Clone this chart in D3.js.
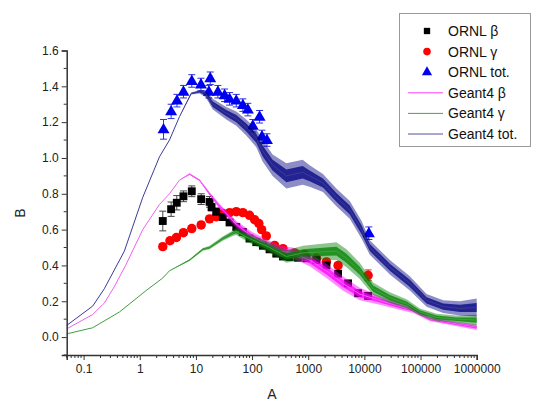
<!DOCTYPE html>
<html><head><meta charset="utf-8">
<script src="https://cdn.jsdelivr.net/npm/d3@7"></script>
<style>body{margin:0;background:#fff}svg{display:block}text{font-family:"Liberation Sans",Arial,sans-serif}</style>
</head><body><svg id="c" width="533" height="403"></svg>
<script>
// ORNL β
const ornlBetaA = [2.57,3.62,4.56,6.0,8.44,12.4,17.5,19.0,23.0,30.1,39.7,52.3,68.5,90,119,156,205,270,355,467,656,927,1400,2110,3400,5120,7720,11650];
const ornlBetaB = [0.648,0.714,0.75,0.786,0.814,0.77,0.755,0.725,0.70,0.67,0.64,0.615,0.587,0.55,0.53,0.51,0.49,0.466,0.45,0.447,0.443,0.44,0.43,0.40,0.354,0.30,0.245,0.23];
const ornlBetaErr = [0.055,0.04,0.04,0.03,0.03,0.03,0.03,0.02,0.02,0.015,0.015,0.015,0.015,0.015,0.015,0.015,0.015,0.015,0.015,0.015,0.015,0.015,0.015,0.015,0.015,0.015,0.015,0.015];
// ORNL γ
const ornlGammaA = [2.57,3.45,4.5,6.0,8.44,12.4,17.5,23.0,30.1,39.7,52.3,68.5,90,111,132,148,179,252,355,573,865,1400,2110,3400,11650];
const ornlGammaB = [0.505,0.538,0.556,0.583,0.606,0.626,0.66,0.672,0.69,0.695,0.70,0.695,0.68,0.655,0.634,0.60,0.565,0.512,0.494,0.47,0.46,0.44,0.42,0.40,0.345];
const ornlGammaErr = [0.015,0.015,0.015,0.015,0.015,0.015,0.015,0.015,0.015,0.015,0.015,0.015,0.015,0.015,0.015,0.015,0.015,0.015,0.015,0.015,0.015,0.015,0.015,0.015,0.03];
// ORNL tot.
const ornlTotA = [2.65,3.62,4.6,6.0,8.44,12.3,17.0,18.0,24.6,32.4,39.7,52.3,68.6,84.2,103,136,150,184,12000];
const ornlTotB = [1.16,1.26,1.32,1.37,1.43,1.41,1.37,1.445,1.37,1.35,1.33,1.32,1.295,1.27,1.18,1.23,1.12,1.10,0.58];
const ornlTotErr = [0.055,0.04,0.035,0.035,0.035,0.035,0.035,0.035,0.035,0.035,0.035,0.035,0.035,0.035,0.035,0.035,0.035,0.035,0.035];
// Geant4 β
const g4BetaA = [0.05,0.145,0.234,0.35,0.56,1.13,2.24,3.38,5.09,7.7,11.6,17.5,26.3,52,102,310,528,1060,2110,4120,8280,18800,37400,74000,147000,291000,1000000];
const g4BetaB = [0.046,0.126,0.19,0.28,0.40,0.60,0.74,0.80,0.876,0.91,0.876,0.80,0.73,0.63,0.56,0.48,0.47,0.43,0.37,0.30,0.24,0.205,0.177,0.15,0.10,0.083,0.055];
const g4BetaSpread = [0,0,0,0,0,0,0,0,0,0.005,0.005,0.01,0.015,0.02,0.025,0.03,0.03,0.035,0.04,0.04,0.035,0.025,0.02,0.015,0.012,0.012,0.015];
// Geant4 γ
const g4GammaA = [0.05,0.145,0.434,1.30,2.57,3.38,7.7,13.3,17.5,30,45.5,52,90,205,408,807,1600,3170,4800,8280,14300,28400,56400,97300,193000,440000,1000000];
const g4GammaB = [0.018,0.052,0.14,0.26,0.33,0.37,0.43,0.49,0.50,0.55,0.58,0.59,0.55,0.50,0.45,0.47,0.475,0.48,0.44,0.37,0.27,0.22,0.186,0.14,0.11,0.10,0.095];
const g4GammaSpread = [0,0,0,0,0,0,0.005,0.008,0.01,0.012,0.015,0.02,0.025,0.03,0.035,0.04,0.045,0.05,0.05,0.045,0.035,0.03,0.025,0.02,0.02,0.02,0.03];
// Geant4 tot.
const g4TotA = [0.05,0.145,0.234,0.532,1.13,2.24,3.38,5.09,8.24,11.6,14.8,20,34.7,52.3,78.8,119,154,232,408,796,1060,1830,3170,5490,8880,12500,28400,64500,128000,254000,503000,1000000];
const g4TotB = [0.065,0.173,0.27,0.48,0.78,1.006,1.10,1.23,1.36,1.37,1.36,1.30,1.25,1.22,1.17,1.11,1.04,0.96,0.90,0.92,0.90,0.86,0.78,0.71,0.60,0.50,0.39,0.30,0.205,0.17,0.16,0.165];
const g4TotSpread = [0,0,0,0,0,0,0,0,0.005,0.01,0.02,0.03,0.035,0.04,0.045,0.05,0.06,0.06,0.07,0.07,0.06,0.05,0.05,0.05,0.05,0.04,0.04,0.04,0.035,0.035,0.04,0.05];

const xTicks = [0.1,1,10,100,1000,10000,100000,1000000];
const xTickLabels = ["0.1","1","10","100","1000","10000","100000","1000000"];
const yTicks = [0.0,0.2,0.4,0.6,0.8,1.0,1.2,1.4,1.6];
const legendLabels = ["ORNL β","ORNL γ","ORNL tot.","Geant4 β","Geant4 γ","Geant4 tot."];

const svg = d3.select("#c");
const x = d3.scaleLog().domain([0.05, 1e6]).range([66.7, 476.7]);
const y = d3.scaleLinear().domain([-0.1, 1.6]).range([355, 50.5]);

const zip = (A,B,E)=>A.map((a,i)=>({a, b:B[i], e:E?E[i]:0}));

// ORNL points with error bars
function drawPoints(data, color, errColor, shape) {
  const g = svg.append("g");
  g.selectAll("path.err").data(data).enter().append("path")
    .attr("d", d => {
      const cx = x(d.a), y1 = y(d.b + d.e), y0 = y(d.b - d.e);
      return `M${cx},${y0}V${y1}M${cx-3.5},${y1}H${cx+3.5}M${cx-3.5},${y0}H${cx+3.5}`;
    })
    .attr("stroke", errColor).attr("stroke-width", 1).attr("fill", "none");
  const sym = d3.symbol().type(shape.type).size(shape.size);
  g.selectAll("path.pt").data(data).enter().append("path")
    .attr("transform", d => `translate(${x(d.a)},${y(d.b) + (shape.dy||0)})`)
    .attr("d", sym).attr("fill", color);
}
drawPoints(zip(ornlTotA, ornlTotB, ornlTotErr), "#0000f0", "#3030e0", {type: d3.symbolTriangle, size: 62, dy: 0.5});
drawPoints(zip(ornlGammaA, ornlGammaB, ornlGammaErr), "#ff0000", "#e03030", {type: d3.symbolCircle, size: 70});
drawPoints(zip(ornlBetaA, ornlBetaB, ornlBetaErr), "#000000", "#444", {type: d3.symbolSquare, size: 62});

// Geant4 curves: outer noise envelope (light), inner core (denser), thin mean line
function drawCurve(A, B, S, color, lineColor) {
  const data = zip(A, B, S);
  svg.append("path").datum(data)
    .attr("d", d3.area().x(d => x(d.a)).y0(d => y(d.b - d.e)).y1(d => y(d.b + d.e)))
    .attr("fill", color).attr("fill-opacity", 0.45);
  svg.append("path").datum(data)
    .attr("d", d3.area().x(d => x(d.a)).y0(d => y(d.b - d.e * 0.5)).y1(d => y(d.b + d.e * 0.5)))
    .attr("fill", color).attr("fill-opacity", 0.75);
  svg.append("path").datum(data)
    .attr("d", d3.line().x(d => x(d.a)).y(d => y(d.b)))
    .attr("fill", "none").attr("stroke", lineColor).attr("stroke-width", 1);
}
drawCurve(g4BetaA, g4BetaB, g4BetaSpread, "#ff00ff", "#f060f0");
drawCurve(g4GammaA, g4GammaB, g4GammaSpread, "#008000", "#40a040");
drawCurve(g4TotA, g4TotB, g4TotSpread, "#000080", "#3c3c98");

// Axes
const axisColor = "#333";
const xAxis = d3.axisBottom(x).tickValues(xTicks).tickFormat((d,i)=>xTickLabels[i]).tickSize(5).tickPadding(4);
const gx = svg.append("g").attr("transform", "translate(0,355)").call(xAxis);
const minorX = [];
for (let e = -2; e < 6; e++) for (let m = 2; m <= 9; m++) { const v = m * Math.pow(10, e); if (v >= 0.05 && v <= 1e6) minorX.push(v); }
svg.append("g").selectAll("line").data(minorX).enter().append("line")
  .attr("x1", d => x(d)).attr("x2", d => x(d)).attr("y1", 355).attr("y2", 358)
  .attr("stroke", axisColor).attr("stroke-width", 1);
const yAxis = d3.axisLeft(y).tickValues(yTicks).tickFormat(d3.format(".1f")).tickSize(5).tickPadding(3);
const gy = svg.append("g").attr("transform", "translate(66.7,0)").call(yAxis);
const minorY = [-0.1,0.1,0.3,0.5,0.7,0.9,1.1,1.3,1.5];
svg.append("g").selectAll("line").data(minorY).enter().append("line")
  .attr("x1", 63.7).attr("x2", 66.7).attr("y1", d => y(d)).attr("y2", d => y(d))
  .attr("stroke", axisColor).attr("stroke-width", 1);
[gx, gy].forEach(g => {
  g.select(".domain").attr("stroke", axisColor).attr("stroke-width", 1.5);
  g.selectAll(".tick line").attr("stroke", axisColor).attr("stroke-width", 1);
  g.selectAll(".tick text").attr("font-size", 12).attr("fill", "#222").attr("font-family", "Liberation Sans, Arial, sans-serif");
});

svg.append("text").attr("x", 272).attr("y", 399).attr("text-anchor", "middle").attr("font-size", 14).attr("fill", "#222").text("A");
svg.append("text").attr("transform", "translate(25,213) rotate(-90)").attr("text-anchor", "middle").attr("font-size", 14).attr("fill", "#222").text("B");

// Legend
const lg = svg.append("g");
lg.append("rect").attr("x", 399.5).attr("y", 13.5).attr("width", 131).attr("height", 133)
  .attr("fill", "#fff").attr("stroke", "#999").attr("stroke-width", 1);
const legendStyles = [
  {kind: "pt", type: d3.symbolSquare, size: 40, color: "#000"},
  {kind: "pt", type: d3.symbolCircle, size: 45, color: "#ff0000"},
  {kind: "pt", type: d3.symbolTriangle, size: 45, color: "#0000f0"},
  {kind: "ln", color: "#ff40ff"},
  {kind: "ln", color: "#50a050"},
  {kind: "ln", color: "#5050a0"}
];
legendLabels.forEach((lab, i) => {
  const yy = 31 + i * 20.6;
  const st = legendStyles[i];
  if (st.kind === "pt") {
    lg.append("path").attr("transform", `translate(427,${yy})`).attr("d", d3.symbol().type(st.type).size(st.size)).attr("fill", st.color);
  } else {
    lg.append("line").attr("x1", 408).attr("x2", 443).attr("y1", yy).attr("y2", yy).attr("stroke", st.color).attr("stroke-width", 1);
  }
  lg.append("text").attr("x", 448).attr("y", yy + 5).attr("font-size", 14).attr("fill", "#111").text(lab);
});
</script></body></html>
